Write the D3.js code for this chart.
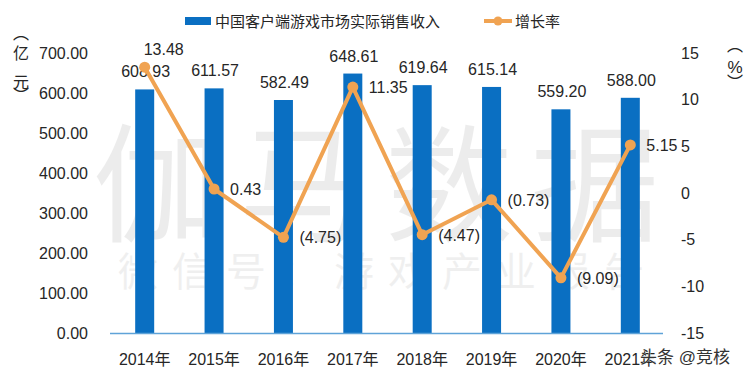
<!DOCTYPE html>
<html><head><meta charset="utf-8">
<script src="https://cdn.jsdelivr.net/npm/d3@7/dist/d3.min.js"></script>
<style>body{margin:0;background:#fff}svg{display:block}text{font-family:"Liberation Sans","Noto Sans CJK SC",sans-serif}</style>
</head><body><svg id="c" width="750" height="378"></svg>
<script>
const categories = ["2014年","2015年","2016年","2017年","2018年","2019年","2020年","2021年"];
const revenue = [608.93, 611.57, 582.49, 648.61, 619.64, 615.14, 559.20, 588.00];
const growth = [13.48, 0.43, -4.75, 11.35, -4.47, -0.73, -9.09, 5.15];
const leftTicks = [0,100,200,300,400,500,600,700];
const rightTicks = [-15,-10,-5,0,5,10,15];
const seriesNames = ["中国客户端游戏市场实际销售收入","增长率"];

const svg = d3.select("#c");
const m = {l:110, r:665, t:53, b:333};
const x = d3.scaleBand().domain(categories).range([m.l,m.r]).paddingInner(0.74).paddingOuter(0.37);
const yL = d3.scaleLinear().domain([0,700]).range([m.b,m.t]);
const yR = d3.scaleLinear().domain([-15,15]).range([m.b,m.t]);
const blue="#0A6FC2", orange="#F0A352", txt="#262626";

// watermark
const wm = svg.append("g").attr("fill","#000").attr("opacity",0.07);
wm.append("text").attr("x",385).attr("y",232).attr("text-anchor","middle")
  .attr("font-size",128).attr("letter-spacing",18).text("伽马数据");
wm.append("text").attr("x",388).attr("y",286).attr("text-anchor","middle")
  .attr("font-size",40).attr("letter-spacing",14).attr("opacity",0.8).text("微信号：游戏产业报告");

// bars
svg.append("g").selectAll("rect").data(revenue).join("rect")
  .attr("x",(d,i)=>x(categories[i])+x.bandwidth()/2-9.5)
  .attr("width",19)
  .attr("y",d=>yL(d)).attr("height",d=>yL(0)-yL(d)).attr("fill",blue);

// axis baseline
svg.append("line").attr("x1",m.l).attr("x2",m.r-2).attr("y1",m.b+0.5).attr("y2",m.b+0.5)
  .attr("stroke","#5FA3D8").attr("stroke-width",1.5);

// left axis
const gl = svg.append("g").attr("transform",`translate(${88},0)`)
  .call(d3.axisLeft(yL).tickValues(leftTicks).tickSize(0).tickPadding(0).tickFormat(d3.format(".2f")));
gl.select(".domain").remove();
gl.selectAll("text").attr("font-size",16).attr("fill",txt).attr("font-family",null);

// right axis
const gr = svg.append("g").attr("transform",`translate(${681},0)`)
  .call(d3.axisRight(yR).tickValues(rightTicks).tickSize(0).tickPadding(0).tickFormat(d=>String(d)));
gr.select(".domain").remove();
gr.selectAll("text").attr("font-size",16).attr("fill",txt).attr("font-family",null);

// x axis
const gx = svg.append("g").attr("transform",`translate(0,${m.b})`)
  .call(d3.axisBottom(x).tickSize(0).tickPadding(21));
gx.select(".domain").remove();
gx.selectAll("text").attr("font-size",16).attr("fill",txt).attr("font-family",null);

// bar labels
svg.append("g").selectAll("text").data(revenue).join("text")
  .attr("x",(d,i)=>x(categories[i])+x.bandwidth()/2+1)
  .attr("y",d=>yL(d)-12)
  .attr("text-anchor","middle").attr("font-size",16).attr("fill",txt)
  .text(d=>d3.format(".2f")(d));

// line
const cx = i=>x(categories[i])+x.bandwidth()/2;
svg.append("path").datum(growth)
  .attr("d",d3.line().x((d,i)=>cx(i)).y(d=>yR(d)))
  .attr("fill","none").attr("stroke",orange).attr("stroke-width",4).attr("stroke-linejoin","round");
svg.append("g").selectAll("circle").data(growth).join("circle")
  .attr("cx",(d,i)=>cx(i)).attr("cy",d=>yR(d)).attr("r",5.5).attr("fill",orange);

const fmtG = d=> d<0 ? "("+d3.format(".2f")(-d)+")" : d3.format(".2f")(d);
svg.append("g").selectAll("text").data(growth).join("text")
  .attr("x",(d,i)=> i===0 ? cx(i)+19 : cx(i)+16)
  .attr("y",(d,i)=> i===0 ? yR(d)-12 : yR(d)+6)
  .attr("text-anchor",(d,i)=> i===0 ? "middle" : "start")
  .attr("font-size",16).attr("fill",txt).text(fmtG);

// unit labels
const uL = svg.append("g").attr("font-size",16).attr("fill",txt).attr("text-anchor","middle")
  .style("font-family",'"Noto Sans CJK SC",sans-serif');
uL.append("text").attr("x",21).attr("y",39).text("︵");
uL.append("text").attr("x",21).attr("y",59).text("亿");
uL.append("text").attr("x",21).attr("y",88).text("元");
uL.append("text").attr("x",21).attr("y",101).text("︶");
uL.append("text").attr("x",735).attr("y",51).text("︵");
uL.append("text").attr("x",735).attr("y",73).attr("font-size",17).text("%");
uL.append("text").attr("x",735).attr("y",88).text("︶");

// legend
const lg = svg.append("g");
lg.append("rect").attr("x",185).attr("y",17).attr("width",26).attr("height",8).attr("fill",blue);
lg.append("text").attr("x",215).attr("y",26.5).attr("font-size",15).attr("fill",txt).text(seriesNames[0]);
lg.append("line").attr("x1",484).attr("x2",512).attr("y1",21).attr("y2",21).attr("stroke",orange).attr("stroke-width",4);
lg.append("circle").attr("cx",498).attr("cy",21).attr("r",4.5).attr("fill",orange);
lg.append("text").attr("x",515).attr("y",26.5).attr("font-size",15).attr("fill",txt).text(seriesNames[1]);

// source mark
svg.append("text").attr("x",640).attr("y",363).attr("font-size",17).attr("fill","#333")
  .attr("stroke","#fff").attr("stroke-width",0.6).attr("paint-order","stroke").text("头条 @竞核");
</script></body></html>
